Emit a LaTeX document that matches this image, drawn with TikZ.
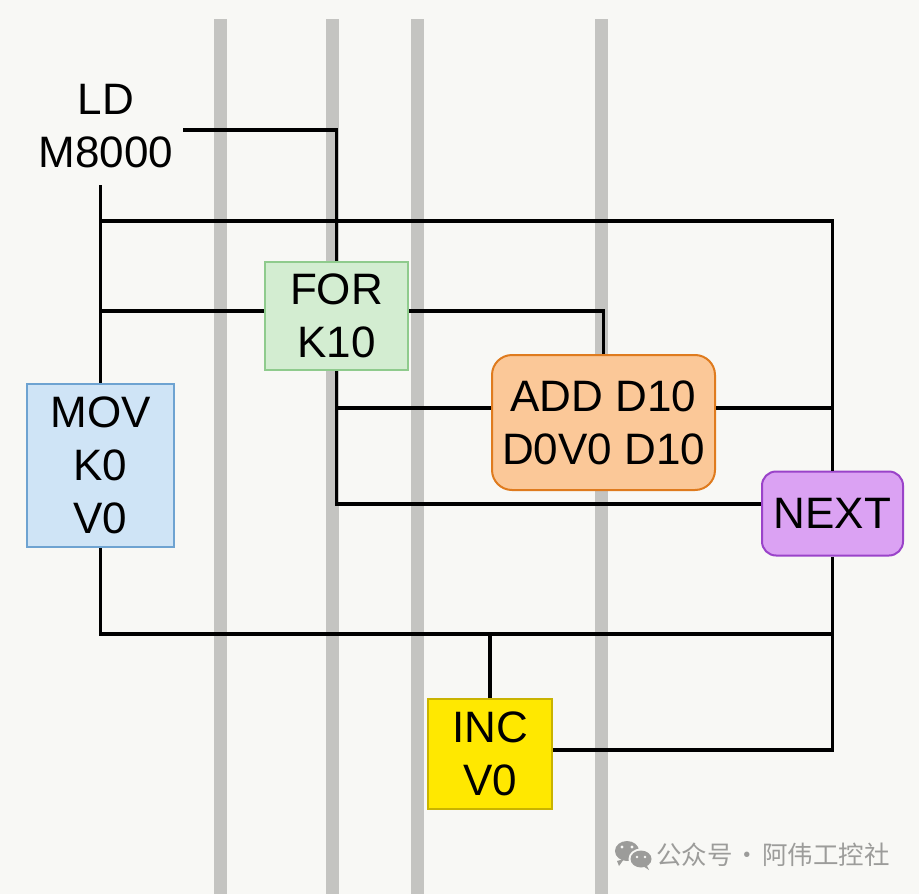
\documentclass[tikz,border=0pt]{standalone}
\usepackage{fontspec}
\setmainfont{Liberation Sans}
\newfontfamily\cjkfont{Noto Sans CJK SC}
\definecolor{bgc}{HTML}{F8F8F5}
\definecolor{barc}{HTML}{C4C4C1}
\definecolor{forfill}{HTML}{D3EDD1}
\definecolor{fordraw}{HTML}{8FCB8D}
\definecolor{movfill}{HTML}{CFE4F6}
\definecolor{movdraw}{HTML}{6EA3D1}
\definecolor{addfill}{HTML}{FBC898}
\definecolor{adddraw}{HTML}{DF7B1E}
\definecolor{nextfill}{HTML}{DBA2F3}
\definecolor{nextdraw}{HTML}{9A43C9}
\definecolor{incfill}{HTML}{FFE800}
\definecolor{incdraw}{HTML}{C9B300}
\definecolor{wmc}{HTML}{9C9C9A}
\begin{document}
\begin{tikzpicture}[x=1pt,y=-1pt,
  wire/.style={draw=black,line width=3.2pt},
  bar/.style={fill=barc,draw=none},
  txt/.style={font=\fontsize{44}{53}\selectfont,align=center,inner sep=0pt},
  box/.style={txt,line width=2pt},
  forbox/.style={box,fill=forfill,draw=fordraw,minimum width=143pt,minimum height=108pt},
  movbox/.style={box,fill=movfill,draw=movdraw,minimum width=147pt,minimum height=163pt},
  addbox/.style={box,fill=addfill,draw=adddraw,rounded corners=20pt,minimum width=223pt,minimum height=135pt},
  nextbox/.style={box,fill=nextfill,draw=nextdraw,rounded corners=14pt,minimum width=141pt,minimum height=84pt},
  incbox/.style={box,fill=incfill,draw=incdraw,minimum width=124pt,minimum height=110pt},
  wm/.style={font=\cjkfont\fontsize{25.5}{30}\selectfont,text=wmc,inner sep=0pt}]
\useasboundingbox (0,0) rectangle (919,894);
\fill[bgc] (0,0) rectangle (919,894);
% gray rails
\foreach \bx in {220,332.5,417,601}{
  \path[bar] (\bx-6.5,19) rectangle (\bx+6.5,894);
}
% nodes
\node[txt] (ld) at (106,126) {LD\\M8000};
\node[forbox] (for) at (336.5,316) {FOR\\K10};
\node[movbox] (mov) at (100.5,465.5) {MOV\\K0\\V0};
\node[addbox] (add) at (603.5,422.5) {ADD D10\\D0V0 D10};
\node[nextbox] (next) at (832.5,513.5) {NEXT};
\node[incbox] (inc) at (490,754) {INC\\V0};
% junction coordinates
\coordinate (s1) at (183,130);
\coordinate (top) at (100.5,185);
\coordinate (a1) at (100.5,221);
\coordinate (a2) at (100.5,311);
\coordinate (b1) at (338,408);
\coordinate (b2) at (338,504);
\coordinate (c1) at (832.5,634);
\coordinate (c2) at (832.5,750);
% wires
\draw[wire] (s1) -| (for.north);
\draw[wire] (top) -- (mov.north);
\draw[wire] (a1) -| (next.north);
\draw[wire] (a2) -- (a2 -| for.west);
\draw[wire] (for.east |- a2) -| (add.north);
\draw[wire] (for.south) -- (for.south |- b2) -- (b2 -| next.west);
\draw[wire] (for.south |- b1) -- (b1 -| add.west);
\draw[wire] (add.east |- b1) -- (b1 -| next.north);
\draw[wire] (mov.south) |- (c1);
\draw[wire] (next.south) |- (inc.east |- c2);
\draw[wire] (inc.north) -- (inc.north |- c1);
% watermark
\fill[wmc] (627,851) ellipse (12pt and 10pt);
\fill[wmc] (617,861) -- (619,866) -- (624,859) -- cycle;
\fill[bgc] (641,859) ellipse (12.5pt and 10.5pt);
\fill[wmc] (641,859) ellipse (10.5pt and 8.5pt);
\fill[wmc] (647,866) -- (649,870) -- (643,866) -- cycle;
\fill[bgc] (622,847) circle (1.6pt) (632,847) circle (1.6pt);
\fill[bgc] (637,857) circle (1.4pt) (645,857) circle (1.4pt);
\node[wm,anchor=west] (wmt) at (656,855) {公众号\kern2pt·\kern2pt阿伟工控社};
\end{tikzpicture}
\end{document}
